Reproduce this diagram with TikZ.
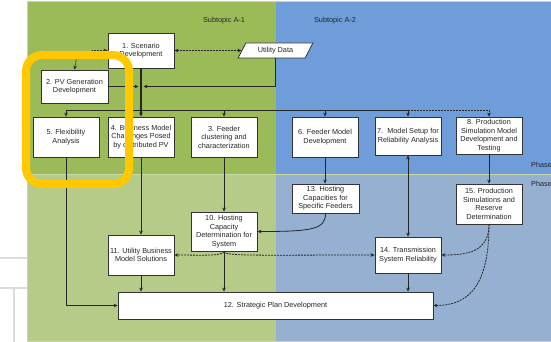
\documentclass[tikz,border=0pt]{standalone}
\usepackage{fontspec}
\setmainfont{Liberation Sans}
\usetikzlibrary{arrows.meta,shapes.geometric,calc}

\definecolor{topgreen}{HTML}{9BBB59}
\definecolor{topblue}{HTML}{6E9DDA}
\definecolor{lowgreen}{HTML}{B6CB88}
\definecolor{lowblue}{HTML}{95B0D0}
\definecolor{rim}{HTML}{C9D9A6}
\definecolor{hlyellow}{HTML}{FFC800}
\definecolor{pagegray}{HTML}{DCDCDC}

\begin{document}
\begin{tikzpicture}[x=1pt,y=-1pt,
  box/.style={draw=black!80, line width=0.8pt, fill=white, align=center,
    inner sep=1pt, text=black!85, font=\fontsize{7.3}{8.6}\selectfont},
  lbl/.style={font=\fontsize{7.3}{8.6}\selectfont, text=black!85, inner sep=0pt},
  tip/.tip={Stealth[length=4pt,width=3.6pt]},
  link/.style={draw=black!85, line width=0.8pt, -tip},
  both/.style={draw=black!85, line width=0.8pt, tip-tip},
  dsh/.style={dash pattern=on 2pt off 1pt}
]
\useasboundingbox (0,0) rectangle (551,342);
\fill[white] (0,0) rectangle (551,342);

% page rules on the left
\draw[pagegray, line width=1.2pt] (0,258) -- (27,258) (0,288) -- (27,288) (14,288) -- (14,342);

% subtopic / phase areas
\fill[topgreen] (27,2) rectangle (276,174);
\fill[topblue] (276,2) rectangle (551,174);
\fill[lowgreen] (27,174) rectangle (276,341);
\fill[lowblue] (276,174) rectangle (551,341);
\draw[rim, line width=1pt] (27.5,1.5) rectangle (551,341.5);
\draw[rim, line width=1pt] (27,174.5) -- (551,174.5);

\node[lbl] (sa1) at (224,21) {Subtopic A-1};
\node[lbl] (sa2) at (335,21) {Subtopic A-2};
\node[lbl, anchor=west] (ph1) at (531,165) {Phase};
\node[lbl, anchor=west] (ph2) at (531,184) {Phase};

% process boxes
\node[box, minimum width=66, minimum height=35] (n1) at (141,50.5) {1. Scenario\\Development};
\node[box, trapezium, trapezium left angle=56, trapezium right angle=124,
  trapezium stretches=true, minimum width=75, minimum height=15, inner sep=0pt]
  (ud) at (275.5,50.5) {Utility Data};
\node[box, minimum width=67, minimum height=33] (n2) at (74.5,86.5) {2. PV Generation\\Development};
\node[box, minimum width=66, minimum height=40] (n5) at (66,137) {5. Flexibility\\Analysis};
\node[box, minimum width=66, minimum height=40] (n4) at (141,137) {4. Business Model\\Challenges Posed\\by distributed PV};
\node[box, minimum width=66, minimum height=40] (n3) at (224,137) {3. Feeder\\clustering and\\characterization};
\node[box, minimum width=66, minimum height=40] (n6) at (325,137) {6. Feeder Model\\Development};
\node[box, minimum width=66, minimum height=38] (n7) at (408,136) {7.\ \ Model Setup for\\Reliability Analysis};
\node[box, minimum width=66, minimum height=37] (n8) at (489,135.5) {8. Production\\Simulation Model\\Development and\\Testing};
\node[box, minimum width=67, minimum height=29] (n13) at (325.5,198.5) {13. Hosting\\Capacities for\\Specific Feeders};
\node[box, minimum width=66, minimum height=40] (n15) at (489,204) {15. Production\\Simulations and\\Reserve\\Determination};
\node[box, minimum width=66, minimum height=39] (n10) at (224,231.5) {10. Hosting\\Capacity\\Determination for\\System};
\node[box, minimum width=66, minimum height=40] (n11) at (141,255) {11. Utility Business\\Model Solutions};
\node[box, minimum width=66, minimum height=36] (n14) at (408,255) {14. Transmission\\System Reliability};
\node[box, minimum width=315, minimum height=27] (n12) at (275.5,305.5) {12. Strategic Plan Development};

% distribution from the scenario box
\coordinate (bus) at (n1.south |- 0,110);
\draw[link, line width=1.1pt] (n1.south) -- (n4.north);
\draw[link] (bus) -| (n5.north);
\draw[link] (bus) -| (n3.north);
\draw[link] (bus) -| (n6.north);
\draw[link] (bus) -| (n7.north);
\draw[link, dsh] (bus) -| (n8.north);

% inputs merging into the trunk
\coordinate (mergeL) at ($(n2.east -| n1.south)+(-2.5,0)$);
\coordinate (mergeR) at ($(n2.east -| n1.south)+(2.5,0)$);
\draw[link] (n2.east) -- (mergeL);
\draw[link] (ud.south) |- (mergeR);

% dashed exchanges around the scenario box
\draw[both, dsh] (n1.east) -- (ud.west);
\draw[both, dsh] (n1.west) -- ++(-15,0) -- ++(-16,7) -- (n2.north);

% downward flows
\draw[link] (n5.south) |- (n12.west);
\draw[link] (n4.south) -- (n11.north);
\draw[link] (n3.south) -- (n10.north);
\draw[link] (n6.south) -- (n6.south |- n13.north);
\draw[both] (n7.south) -- (n14.north);
\draw[link] (n8.south) -- (n15.north);
\draw[link] (n13.south) .. controls +(0,16) and +(55,0) .. (n10.east);
\draw[link, dsh] (n10.south) .. controls +(0,5) and +(25,0) .. (n11.east);
\draw[link, dsh] (n10.south) .. controls +(0,5) and +(-120,0) .. (n14.west);
\draw[link] (n10.south) -- (n10.south |- n12.north);
\draw[link] (n11.south) -- (n11.south |- n12.north);
\draw[link] (n14.south) -- (n14.south |- n12.north);
\draw[link, dsh] (n15.south) .. controls +(0,28) and +(25,0) .. (n14.east);
\draw[link, dsh] (n15.south) .. controls +(0,62) and +(35,0) .. (n12.east);

% highlight frame
\node[draw=hlyellow, line width=8pt, rounded corners=16pt, minimum width=103,
  minimum height=129, inner sep=0pt] (hl) at (77.5,119.5) {};
\end{tikzpicture}
\end{document}
